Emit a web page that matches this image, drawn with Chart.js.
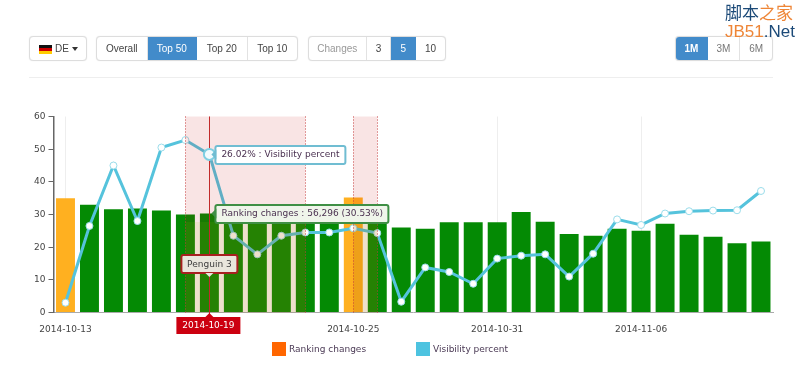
<!DOCTYPE html>
<html>
<head>
<meta charset="utf-8">
<script src="https://cdn.jsdelivr.net/npm/chart.js@4"></script>
<style>
html,body{margin:0;padding:0;background:#fff;width:800px;height:379px;overflow:hidden}
#wrap{position:relative;width:800px;height:379px}
canvas{position:absolute;left:0;top:0}
.grp{position:absolute;top:36px;height:25px;display:flex;border:1px solid #ddd;border-radius:4px;box-sizing:border-box;overflow:hidden;box-shadow:0 0 1px #ddd;background:#fff}
.grp div{font:10px/23px "Liberation Sans",Arial,sans-serif;color:#444;text-align:center;border-right:1px solid #e2e2e2;box-sizing:border-box;height:23px}
.grp div:last-child{border-right:0}
.grp div.on{background:#428bca;color:#fff;border-right-color:#428bca}
.grp div.off{color:#999}
.flag{position:absolute;left:9px;top:8px;width:13px;height:9px;background:linear-gradient(#111 0 33%,#c00 33% 66%,#fc0 66%)}
.caret{display:inline-block;border-top:4px solid #333;border-left:3px solid transparent;border-right:3px solid transparent;margin-left:3px;vertical-align:1px}
#rule{position:absolute;left:29px;top:77px;width:744px;height:1px;background:#eee}
#legend span.box{position:absolute;top:342px;width:14px;height:14px}
#legend span.txt{position:absolute;top:343px;font:9px/12px "DejaVu Sans",sans-serif;color:#4b3a55;white-space:nowrap}
.wm{position:absolute;left:725px;white-space:nowrap;color:#1c4a78}
.wm b{font-weight:normal;color:#ee8536}
</style>
</head>
<body>
<div id="wrap">
<canvas id="c" width="780" height="379"></canvas>
<div class="grp" style="left:29px;width:58px"><div style="width:56px;text-align:left;padding-left:25px;border:0">DE<span class="caret"></span></div><span class="flag"></span></div>
<div class="grp" style="left:96px;width:202px"><div style="width:51px">Overall</div><div class="on" style="width:50px">Top 50</div><div style="width:51px">Top 20</div><div style="width:50px">Top 10</div></div>
<div class="grp" style="left:308px;width:138px"><div class="off" style="width:58px">Changes</div><div style="width:25px">3</div><div class="on" style="width:25px">5</div><div style="width:29px">10</div></div>
<div class="grp" style="left:675px;width:98px"><div class="on" style="width:32px;font-weight:bold">1M</div><div class="off" style="width:33px;color:#777">3M</div><div class="off" style="width:32px;color:#777">6M</div></div>
<div id="rule"></div>
<div id="legend"></div>
<div class="wm" style="top:0;font:17px/24px 'Noto Sans CJK SC',sans-serif">脚本<b>之家</b></div>
<div class="wm" style="top:22px;font:17px/20px 'Liberation Sans',sans-serif"><b>JB51</b>.Net</div>
</div>
<script>
const categories = ['2014-10-13','2014-10-14','2014-10-15','2014-10-16','2014-10-17','2014-10-18','2014-10-19','2014-10-20','2014-10-21','2014-10-22','2014-10-23','2014-10-24','2014-10-25','2014-10-26','2014-10-27','2014-10-28','2014-10-29','2014-10-30','2014-10-31','2014-11-01','2014-11-02','2014-11-03','2014-11-04','2014-11-05','2014-11-06','2014-11-07','2014-11-08','2014-11-09','2014-11-10','2014-11-11'];
const rankingChanges = [35,33,31.6,31.8,31.2,30,30.3,27.7,27.7,27.7,27.7,27.7,35.2,27.7,26,25.6,27.6,27.6,27.6,30.8,27.8,24,23.5,25.6,25,27.2,23.8,23.2,21.2,21.7];
const visibilityPercent = [3,26.5,45,28,50.5,52.8,48.4,23.5,17.8,23.5,24.5,24.5,25.8,24.3,3.3,13.8,12.4,8.8,16.5,17.4,17.8,11,18,28.5,26.8,30.3,31,31.2,31.3,37.2];
const highlightedBars = ['2014-10-13','2014-10-25'];
const labelledDates = ['2014-10-13','2014-10-25','2014-10-31','2014-11-06'];
const griddedDates = ['2014-10-13','2014-10-19','2014-10-31','2014-11-06'];
const bands = [['2014-10-18','2014-10-23'],['2014-10-25','2014-10-26']];
const markerDate = '2014-10-19';
const markerLabel = 'Penguin 3';
const visibilityTip = '26.02% : Visibility percent';
const rankingTip = 'Ranking changes : 56,296 (30.53%)';
const legendItems = [['Ranking changes','#ff6600',272],['Visibility percent','#4dc3e0',416]];
const FONT = '"DejaVu Sans",sans-serif';

function box(ctx,x,y,w,h,fill,stroke,lw){
  ctx.fillStyle=fill;ctx.strokeStyle=stroke;ctx.lineWidth=lw;
  ctx.beginPath();ctx.roundRect(x,y,w,h,2);ctx.fill();ctx.stroke();
}
function tri(ctx,a,b,c,fill){
  ctx.fillStyle=fill;ctx.beginPath();ctx.moveTo(a[0],a[1]);ctx.lineTo(b[0],b[1]);ctx.lineTo(c[0],c[1]);ctx.closePath();ctx.fill();
}
const overlay = {
  id:'overlay',
  afterDatasetsDraw(chart){
    const {ctx,chartArea:a,scales:{x,y}}=chart;
    ctx.save();
    const split=222;
    bands.forEach(b=>{
      const x0=x.getPixelForValue(b[0]),x1=x.getPixelForValue(b[1]);
      ctx.fillStyle='rgba(200,0,0,0.105)';
      ctx.fillRect(x0,a.top,x1-x0,split-a.top);
      ctx.fillStyle='rgba(170,100,0,0.2)';
      ctx.fillRect(x0,split,x1-x0,a.bottom-split);
      ctx.strokeStyle='#c43a3a';ctx.lineWidth=1;ctx.setLineDash([1,2]);
      [x0,x1].forEach(px=>{ctx.beginPath();ctx.moveTo(Math.round(px)+.5,a.top);ctx.lineTo(Math.round(px)+.5,a.bottom);ctx.stroke();});
      ctx.setLineDash([]);
    });
    const i=categories.indexOf(markerDate);
    const mx=x.getPixelForValue(markerDate);
    const fx=Math.round(mx)+.5;
    ctx.strokeStyle='#c22a2a';ctx.lineWidth=1;
    ctx.beginPath();ctx.moveTo(fx,a.top);ctx.lineTo(fx,a.bottom+5);ctx.stroke();
    const vy=y.getPixelForValue(visibilityPercent[i]);
    ctx.fillStyle='#f2fbfd';ctx.strokeStyle='#7fcfe2';ctx.lineWidth=2;
    ctx.beginPath();ctx.arc(mx,vy,5.5,0,Math.PI*2);ctx.fill();ctx.stroke();
    ctx.font='9px '+FONT;ctx.textBaseline='middle';ctx.textAlign='left';
    box(ctx,mx+6,vy-8.5,130,18,'#fff','#70bdd2',2);
    tri(ctx,[mx+7,vy-5],[mx+7,vy+5],[mx+2,vy],'#70bdd2');
    ctx.fillStyle='#4a3050';ctx.fillText(visibilityTip,mx+12,vy+.5);
    const by=y.getPixelForValue(rankingChanges[i]);
    box(ctx,mx+6,by-8.5,173,18,'#eff5ea','#3f8f45',2);
    tri(ctx,[mx+7,by-5],[mx+7,by+5],[mx+2,by],'#3f8f45');
    ctx.fillStyle='#4a3050';ctx.fillText(rankingTip,mx+12,by+.5);
    ctx.textAlign='center';
    box(ctx,mx-28,255,56,18,'#e9e6dc','#a82020',2);
    tri(ctx,[mx-4,273],[mx+4,273],[mx,277],'#e9e6dc');
    ctx.fillStyle='#3c3c3c';ctx.fillText(markerLabel,mx,264.5);
    ctx.fillStyle='#cc0010';ctx.fillRect(mx-33,317,64,17);
    tri(ctx,[mx-4,317],[mx+4,317],[mx,313],'#cc0010');
    ctx.fillStyle='#fff';ctx.fillText(markerDate,mx-1,326);
    ctx.restore();
  }
};
const chart = new Chart(document.getElementById('c'),{
  type:'bar',
  data:{labels:categories,datasets:[
    {type:'line',label:'Visibility percent',data:visibilityPercent,order:1,borderColor:'#55c3dc',borderWidth:3,tension:0,
     pointRadius:3.5,pointBackgroundColor:'#fff',pointBorderColor:'#9adcea',pointBorderWidth:1},
    {type:'bar',label:'Ranking changes',data:rankingChanges,order:2,barPercentage:0.79,categoryPercentage:1,
     backgroundColor:categories.map(c=>highlightedBars.includes(c)?'#ffb020':'#048a04')}
  ]},
  options:{
    responsive:false,animation:false,
    layout:{autoPadding:false,padding:{left:0,right:7,top:116.5,bottom:0}},
    plugins:{legend:{display:false},tooltip:{enabled:false}},
    scales:{
      x:{
        afterFit(s){s.height=66.5;},
        border:{color:'#aaa',width:1},
        grid:{offset:false,drawTicks:false,color:c=>griddedDates.includes(categories[c.index])?'#eee':'rgba(0,0,0,0)'},
        ticks:{autoSkip:false,maxRotation:0,padding:12,color:'#444',font:{family:FONT,size:9},
          callback(v,i){return labelledDates.includes(categories[i])?categories[i]:'';}}
      },
      y:{
        min:0,max:60,
        afterFit(s){s.width=53.5;},
        border:{color:'#666',width:1.5},
        grid:{drawOnChartArea:false,color:'#666',tickLength:5},
        ticks:{stepSize:10,padding:3,color:'#444',font:{family:FONT,size:9}}
      }
    }
  },
  plugins:[overlay]
});
document.getElementById('legend').innerHTML=legendItems.map(l=>`<span class="box" style="left:${l[2]}px;background:${l[1]}"></span><span class="txt" style="left:${l[2]+17}px">${l[0]}</span>`).join('');
</script>
</body>
</html>
